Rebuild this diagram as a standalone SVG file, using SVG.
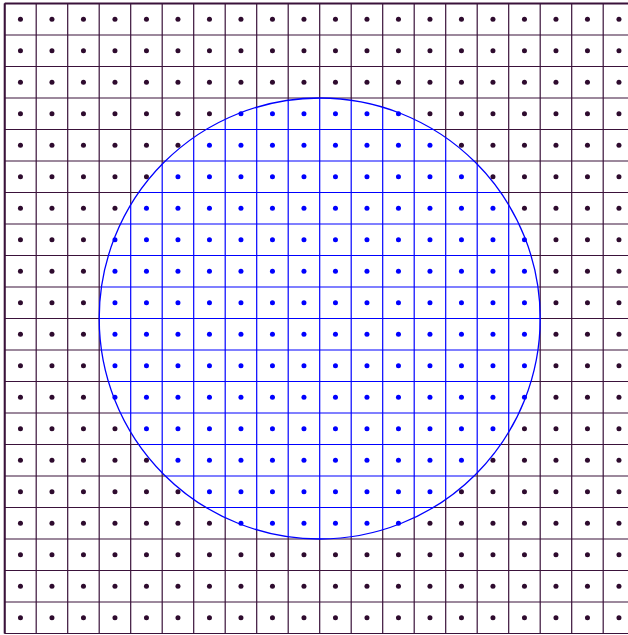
<svg xmlns="http://www.w3.org/2000/svg" xmlns:xlink="http://www.w3.org/1999/xlink" width="628" height="635" viewBox="0 0 628 635">
<style>
.k{fill:#2e0b2e}
.b{fill:#0000ff}
.gd{stroke:#3a123a;stroke-width:1.2;fill:none}
.gb{stroke:#0000ff;stroke-width:1.2;fill:none}
.ring{stroke:#0000ff;stroke-width:1.3;fill:none}
</style>
<defs>
<clipPath id="cc"><circle cx="319.7" cy="318.5" r="220.5"/></clipPath>
<path id="grid" d="M4.7 3.5V633.5M36.2 3.5V633.5M67.7 3.5V633.5M99.2 3.5V633.5M130.7 3.5V633.5M162.2 3.5V633.5M193.7 3.5V633.5M225.2 3.5V633.5M256.7 3.5V633.5M288.2 3.5V633.5M319.7 3.5V633.5M351.2 3.5V633.5M382.7 3.5V633.5M414.2 3.5V633.5M445.7 3.5V633.5M477.2 3.5V633.5M508.7 3.5V633.5M540.2 3.5V633.5M571.7 3.5V633.5M603.2 3.5V633.5M4.7 3.5H640M4.7 35H640M4.7 66.5H640M4.7 98H640M4.7 129.5H640M4.7 161H640M4.7 192.5H640M4.7 224H640M4.7 255.5H640M4.7 287H640M4.7 318.5H640M4.7 350H640M4.7 381.5H640M4.7 413H640M4.7 444.5H640M4.7 476H640M4.7 507.5H640M4.7 539H640M4.7 570.5H640M4.7 602H640M4.7 633.5H640"/>
<g id="r0">
<circle class="k" cx="20.45" r="2.5"/><circle class="k" cx="51.95" r="2.5"/><circle class="k" cx="83.45" r="2.5"/><circle class="k" cx="114.95" r="2.5"/><circle class="k" cx="146.45" r="2.5"/><circle class="k" cx="177.95" r="2.5"/><circle class="k" cx="209.45" r="2.5"/><circle class="k" cx="240.95" r="2.5"/><circle class="k" cx="272.45" r="2.5"/><circle class="k" cx="303.95" r="2.5"/><circle class="k" cx="335.45" r="2.5"/><circle class="k" cx="366.95" r="2.5"/><circle class="k" cx="398.45" r="2.5"/><circle class="k" cx="429.95" r="2.5"/><circle class="k" cx="461.45" r="2.5"/><circle class="k" cx="492.95" r="2.5"/><circle class="k" cx="524.45" r="2.5"/><circle class="k" cx="555.95" r="2.5"/><circle class="k" cx="587.45" r="2.5"/><circle class="k" cx="618.95" r="2.5"/>
</g>
<g id="r7">
<circle class="k" cx="20.45" r="2.5"/><circle class="k" cx="51.95" r="2.5"/><circle class="k" cx="83.45" r="2.5"/><circle class="k" cx="114.95" r="2.5"/><circle class="k" cx="146.45" r="2.5"/><circle class="k" cx="177.95" r="2.5"/><circle class="k" cx="209.45" r="2.5"/><circle class="b" cx="240.95" r="2.5"/><circle class="b" cx="272.45" r="2.5"/><circle class="b" cx="303.95" r="2.5"/><circle class="b" cx="335.45" r="2.5"/><circle class="b" cx="366.95" r="2.5"/><circle class="b" cx="398.45" r="2.5"/><circle class="k" cx="429.95" r="2.5"/><circle class="k" cx="461.45" r="2.5"/><circle class="k" cx="492.95" r="2.5"/><circle class="k" cx="524.45" r="2.5"/><circle class="k" cx="555.95" r="2.5"/><circle class="k" cx="587.45" r="2.5"/><circle class="k" cx="618.95" r="2.5"/>
</g>
<g id="r6">
<circle class="k" cx="20.45" r="2.5"/><circle class="k" cx="51.95" r="2.5"/><circle class="k" cx="83.45" r="2.5"/><circle class="k" cx="114.95" r="2.5"/><circle class="k" cx="146.45" r="2.5"/><circle class="k" cx="177.95" r="2.5"/><circle class="b" cx="209.45" r="2.5"/><circle class="b" cx="240.95" r="2.5"/><circle class="b" cx="272.45" r="2.5"/><circle class="b" cx="303.95" r="2.5"/><circle class="b" cx="335.45" r="2.5"/><circle class="b" cx="366.95" r="2.5"/><circle class="b" cx="398.45" r="2.5"/><circle class="b" cx="429.95" r="2.5"/><circle class="k" cx="461.45" r="2.5"/><circle class="k" cx="492.95" r="2.5"/><circle class="k" cx="524.45" r="2.5"/><circle class="k" cx="555.95" r="2.5"/><circle class="k" cx="587.45" r="2.5"/><circle class="k" cx="618.95" r="2.5"/>
</g>
<g id="r5">
<circle class="k" cx="20.45" r="2.5"/><circle class="k" cx="51.95" r="2.5"/><circle class="k" cx="83.45" r="2.5"/><circle class="k" cx="114.95" r="2.5"/><circle class="k" cx="146.45" r="2.5"/><circle class="b" cx="177.95" r="2.5"/><circle class="b" cx="209.45" r="2.5"/><circle class="b" cx="240.95" r="2.5"/><circle class="b" cx="272.45" r="2.5"/><circle class="b" cx="303.95" r="2.5"/><circle class="b" cx="335.45" r="2.5"/><circle class="b" cx="366.95" r="2.5"/><circle class="b" cx="398.45" r="2.5"/><circle class="b" cx="429.95" r="2.5"/><circle class="b" cx="461.45" r="2.5"/><circle class="k" cx="492.95" r="2.5"/><circle class="k" cx="524.45" r="2.5"/><circle class="k" cx="555.95" r="2.5"/><circle class="k" cx="587.45" r="2.5"/><circle class="k" cx="618.95" r="2.5"/>
</g>
<g id="r4">
<circle class="k" cx="20.45" r="2.5"/><circle class="k" cx="51.95" r="2.5"/><circle class="k" cx="83.45" r="2.5"/><circle class="k" cx="114.95" r="2.5"/><circle class="b" cx="146.45" r="2.5"/><circle class="b" cx="177.95" r="2.5"/><circle class="b" cx="209.45" r="2.5"/><circle class="b" cx="240.95" r="2.5"/><circle class="b" cx="272.45" r="2.5"/><circle class="b" cx="303.95" r="2.5"/><circle class="b" cx="335.45" r="2.5"/><circle class="b" cx="366.95" r="2.5"/><circle class="b" cx="398.45" r="2.5"/><circle class="b" cx="429.95" r="2.5"/><circle class="b" cx="461.45" r="2.5"/><circle class="b" cx="492.95" r="2.5"/><circle class="k" cx="524.45" r="2.5"/><circle class="k" cx="555.95" r="2.5"/><circle class="k" cx="587.45" r="2.5"/><circle class="k" cx="618.95" r="2.5"/>
</g>
<g id="r3">
<circle class="k" cx="20.45" r="2.5"/><circle class="k" cx="51.95" r="2.5"/><circle class="k" cx="83.45" r="2.5"/><circle class="b" cx="114.95" r="2.5"/><circle class="b" cx="146.45" r="2.5"/><circle class="b" cx="177.95" r="2.5"/><circle class="b" cx="209.45" r="2.5"/><circle class="b" cx="240.95" r="2.5"/><circle class="b" cx="272.45" r="2.5"/><circle class="b" cx="303.95" r="2.5"/><circle class="b" cx="335.45" r="2.5"/><circle class="b" cx="366.95" r="2.5"/><circle class="b" cx="398.45" r="2.5"/><circle class="b" cx="429.95" r="2.5"/><circle class="b" cx="461.45" r="2.5"/><circle class="b" cx="492.95" r="2.5"/><circle class="b" cx="524.45" r="2.5"/><circle class="k" cx="555.95" r="2.5"/><circle class="k" cx="587.45" r="2.5"/><circle class="k" cx="618.95" r="2.5"/>
</g>
</defs>
<rect width="628" height="635" fill="#ffffff"/>
<g id="outer-grid">
<use href="#grid" class="gd"/>
<path d="M4.7 3.5H640M4.7 3.5V633.5" stroke="#3a123a" stroke-width="2" fill="none"/>
</g>
<g id="inner-grid">
<circle cx="319.7" cy="318.5" r="220.5" fill="#ffffff"/>
<g clip-path="url(#cc)"><use href="#grid" class="gb"/></g>
<circle class="ring" cx="319.7" cy="318.5" r="220.5"/>
</g>
<g id="dots">
<use href="#r0" y="19.25"/>
<use href="#r0" y="50.75"/>
<use href="#r0" y="82.25"/>
<use href="#r7" y="113.75"/>
<use href="#r6" y="145.25"/>
<use href="#r5" y="176.75"/>
<use href="#r4" y="208.25"/>
<use href="#r3" y="239.75"/>
<use href="#r3" y="271.25"/>
<use href="#r3" y="302.75"/>
<use href="#r3" y="334.25"/>
<use href="#r3" y="365.75"/>
<use href="#r3" y="397.25"/>
<use href="#r4" y="428.75"/>
<use href="#r5" y="460.25"/>
<use href="#r6" y="491.75"/>
<use href="#r7" y="523.25"/>
<use href="#r0" y="554.75"/>
<use href="#r0" y="586.25"/>
<use href="#r0" y="617.75"/>
</g>
</svg>
